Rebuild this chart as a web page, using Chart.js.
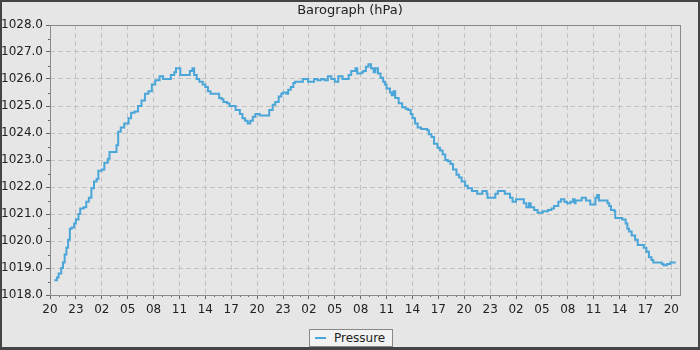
<!DOCTYPE html>
<html>
<head>
<meta charset="utf-8">
<title>Barograph</title>
<script src="https://cdn.jsdelivr.net/npm/chart.js@4.4.1/dist/chart.umd.min.js"></script>
<style>
  html, body { margin: 0; padding: 0; background: #e6e6e6; }
  #wrap { position: relative; width: 700px; height: 350px; }
  #legend {
    position: absolute; left: 309px; top: 329px; width: 82px; height: 16px;
    background: #f2f2f2; border: 1px solid #888;
    font: 12px "DejaVu Sans", sans-serif; color: #222;
  }
  #legend .swatch { position: absolute; left: 5px; top: 7px; width: 11px; height: 2px; background: #4aa6d8; }
  #legend .label { position: absolute; left: 24px; top: 1px; line-height: 14px; }
</style>
</head>
<body>
<div id="wrap">
  <canvas id="chart" width="700" height="350"></canvas>
  <div id="legend"><span class="swatch"></span><span class="label">Pressure</span></div>
</div>
<script>
// hours since the first tick (20:00), and pressure readings in hPa
const hours = [
  0.5, 0.8, 1.0, 1.3, 1.5, 1.7, 1.9, 2.1, 2.3, 2.5, 2.8, 3.0, 3.3, 3.5, 3.9, 4.2, 4.5, 4.8,
  5.1, 5.4, 5.6, 6.0, 6.3, 6.7, 6.9, 7.7, 7.9, 8.2, 8.6, 9.1, 9.4, 9.8, 10.2, 10.6, 11.0,
  11.4, 11.8, 12.2, 12.7, 13.1, 14.0, 14.4, 14.6, 15.1, 16.2, 16.5, 16.7, 17.0, 17.3, 17.7,
  18.0, 18.3, 18.6, 19.6, 19.9, 20.1, 20.5, 20.8, 21.5, 22.0, 22.3, 22.6, 22.9, 23.2, 23.5,
  23.8, 24.3, 25.4, 25.8, 26.1, 26.5, 26.8, 27.0, 27.4, 27.6, 27.9, 28.2, 28.4, 29.3, 29.9,
  30.6, 31.0, 31.4, 31.8, 32.2, 32.6, 33.0, 33.4, 33.9, 34.6, 34.9, 35.4, 35.6, 36.1, 36.3,
  36.6, 36.9, 37.2, 37.5, 37.7, 38.0, 38.3, 38.6, 38.8, 39.0, 39.4, 39.6, 39.8, 40.0, 40.4,
  40.8, 41.2, 41.5, 41.8, 42.0, 42.3, 42.6, 43.0, 43.7, 43.9, 44.2, 44.5, 44.9, 45.2, 45.5,
  45.8, 46.1, 46.4, 46.7, 47.1, 47.4, 47.7, 48.1, 48.4, 48.9, 49.5, 50.1, 50.6, 50.7, 51.6,
  51.9, 52.7, 53.3, 53.6, 54.0, 54.9, 55.2, 55.5, 55.7, 56.1, 56.5, 57.1, 57.7, 58.1, 58.4,
  58.9, 59.2, 59.6, 59.9, 60.3, 60.6, 60.8, 60.9, 61.6, 62.1, 62.6, 63.2, 63.4, 63.6, 64.6,
  64.8, 65.0, 65.4, 65.5, 66.3, 66.7, 66.9, 67.1, 67.4, 67.8, 68.1, 68.8, 69.1, 69.4, 69.7,
  69.9, 70.9, 71.1, 71.5, 71.9, 72.5
];
const pressure = [
  1018.55, 1018.65, 1018.8, 1019.0, 1019.2, 1019.5, 1019.75, 1020.05, 1020.45, 1020.5, 1020.65, 1020.8, 1021.0, 1021.2, 1021.25, 1021.45, 1021.6, 1021.95,
  1022.2, 1022.3, 1022.6, 1022.65, 1022.9, 1023.05, 1023.3, 1023.55, 1024.05, 1024.2, 1024.35, 1024.55, 1024.75, 1024.8, 1025.0, 1025.2, 1025.45,
  1025.55, 1025.8, 1025.95, 1026.1, 1026.0, 1026.15, 1026.25, 1026.4, 1026.15, 1026.3, 1026.4, 1026.15, 1026.0, 1025.9, 1025.8,
  1025.7, 1025.55, 1025.45, 1025.3, 1025.25, 1025.15, 1025.1, 1025.0, 1024.85, 1024.7, 1024.55, 1024.45, 1024.35, 1024.45, 1024.6,
  1024.7, 1024.65, 1024.85, 1025.05, 1025.15, 1025.35, 1025.45, 1025.5, 1025.45, 1025.6, 1025.7, 1025.85, 1025.9, 1026.0, 1025.9,
  1026.0, 1025.95, 1026.0, 1025.95, 1026.1, 1026.0, 1025.9, 1026.1, 1026.0, 1026.15, 1026.3, 1026.4, 1026.2, 1026.25, 1026.3,
  1026.45, 1026.55, 1026.4, 1026.25, 1026.4, 1026.2, 1026.05, 1025.9, 1025.8, 1025.65, 1025.5, 1025.4, 1025.55, 1025.3, 1025.1,
  1024.95, 1024.9, 1024.85, 1024.7, 1024.55, 1024.35, 1024.2, 1024.15, 1024.1, 1023.95, 1023.85, 1023.6, 1023.45, 1023.35, 1023.2,
  1023.0, 1022.95, 1022.85, 1022.65, 1022.45, 1022.35, 1022.2, 1022.05, 1021.95, 1021.85, 1021.75, 1021.85, 1021.75, 1021.6, 1021.75,
  1021.85, 1021.75, 1021.6, 1021.45, 1021.55, 1021.4, 1021.25, 1021.4, 1021.25, 1021.15, 1021.05, 1021.1, 1021.15, 1021.2, 1021.3,
  1021.45, 1021.55, 1021.45, 1021.4, 1021.45, 1021.55, 1021.4, 1021.5, 1021.6, 1021.5, 1021.35, 1021.6, 1021.7, 1021.5, 1021.4,
  1021.3, 1021.15, 1021.1, 1020.85, 1020.8, 1020.65, 1020.45, 1020.35, 1020.2, 1020.05, 1019.85, 1019.75, 1019.6, 1019.4, 1019.3,
  1019.2, 1019.15, 1019.1, 1019.15, 1019.2, 1019.2
];
// x tick labels, one every 3 hours
const hourLabels = ['20', '23', '02', '05', '08', '11', '14', '17', '20', '23', '02', '05', '08',
                    '11', '14', '17', '20', '23', '02', '05', '08', '11', '14', '17', '20'];
const yMin = 1018, yMax = 1028;
const xMax = 73;

const FONT = '"DejaVu Sans", sans-serif';

// minor ticks, plot outline and the dark window frame
const decorations = {
    id: 'decorations',
    afterDraw(chart) {
        const {ctx, chartArea: a, scales: {x, y}} = chart;
        ctx.save();
        ctx.strokeStyle = '#666';
        ctx.lineWidth = 1;
        ctx.beginPath();
        for (let h = 1; h < xMax; h++) {
            if (h % 3 === 0) continue;
            const px = Math.round(x.getPixelForValue(h)) + 0.5;
            ctx.moveTo(px, a.bottom);
            ctx.lineTo(px, a.bottom + 2);
        }
        for (let v = yMin + 0.5; v < yMax; v += 1) {
            const py = Math.round(y.getPixelForValue(v)) + 0.5;
            ctx.moveTo(a.left - 2, py);
            ctx.lineTo(a.left, py);
        }
        ctx.stroke();

        ctx.strokeStyle = '#8a8a8a';
        ctx.strokeRect(Math.round(a.left) + 0.5, Math.round(a.top) + 0.5,
                       Math.round(a.right - a.left), Math.round(a.bottom - a.top));

        // window frame
        const W = chart.width, H = chart.height;
        ctx.fillStyle = '#444';
        ctx.fillRect(0, 0, W, 2);
        ctx.fillRect(0, 0, 2, H);
        ctx.fillRect(W - 2, 0, 2, H);
        ctx.fillRect(0, H - 3, W, 3);
        ctx.restore();
    }
};

const ctx = document.getElementById('chart').getContext('2d');
const chart = new Chart(ctx, {
    type: 'line',
    data: {
        datasets: [{
            label: 'Pressure',
            data: hours.map((h, i) => ({x: h, y: pressure[i]})),
            borderColor: '#4aa6d8',
            borderWidth: 2,
            pointRadius: 0,
            stepped: true,
            fill: false
        }]
    },
    options: {
        responsive: false,
        animation: false,
        layout: { padding: 0 },
        plugins: {
            legend: { display: false },
            tooltip: { enabled: false },
            title: {
                display: true,
                text: 'Barograph (hPa)',
                color: '#222',
                font: { family: FONT, size: 13, weight: 'normal' },
                padding: { top: 3, bottom: 6.4 }
            }
        },
        scales: {
            x: {
                type: 'linear',
                min: 0,
                max: xMax,
                afterBuildTicks: scale => {
                    scale.ticks = hourLabels.map((_, i) => ({ value: i * 3 }));
                },
                afterFit: scale => { scale.height = 55; },
                ticks: {
                    autoSkip: false,
                    maxRotation: 0,
                    padding: 4,
                    color: '#222',
                    font: { family: FONT, size: 12 },
                    callback: (value, index) => hourLabels[index]
                },
                grid: {
                    color: '#c2c2c2',
                    lineWidth: 1,
                    drawTicks: true,
                    tickLength: 4,
                    tickColor: '#666',
                    tickBorderDash: []
                },
                border: { display: false, dash: [5, 3] }
            },
            y: {
                min: yMin,
                max: yMax,
                afterFit: scale => { scale.width = 50; },
                ticks: {
                    stepSize: 1,
                    padding: 3,
                    color: '#222',
                    font: { family: FONT, size: 12 },
                    callback: value => value.toFixed(1)
                },
                grid: {
                    color: '#c2c2c2',
                    lineWidth: 1,
                    drawTicks: true,
                    tickLength: 4,
                    tickColor: '#666',
                    tickBorderDash: []
                },
                border: { display: false, dash: [5, 3] }
            },
            // empty right-hand gutter so the title centres on the whole window
            gutter: {
                type: 'linear',
                position: 'right',
                display: true,
                afterFit: scale => { scale.width = 20; },
                ticks: { display: false },
                grid: { display: false, drawTicks: false },
                border: { display: false }
            }
        }
    },
    plugins: [decorations]
});
</script>
</body>
</html>
